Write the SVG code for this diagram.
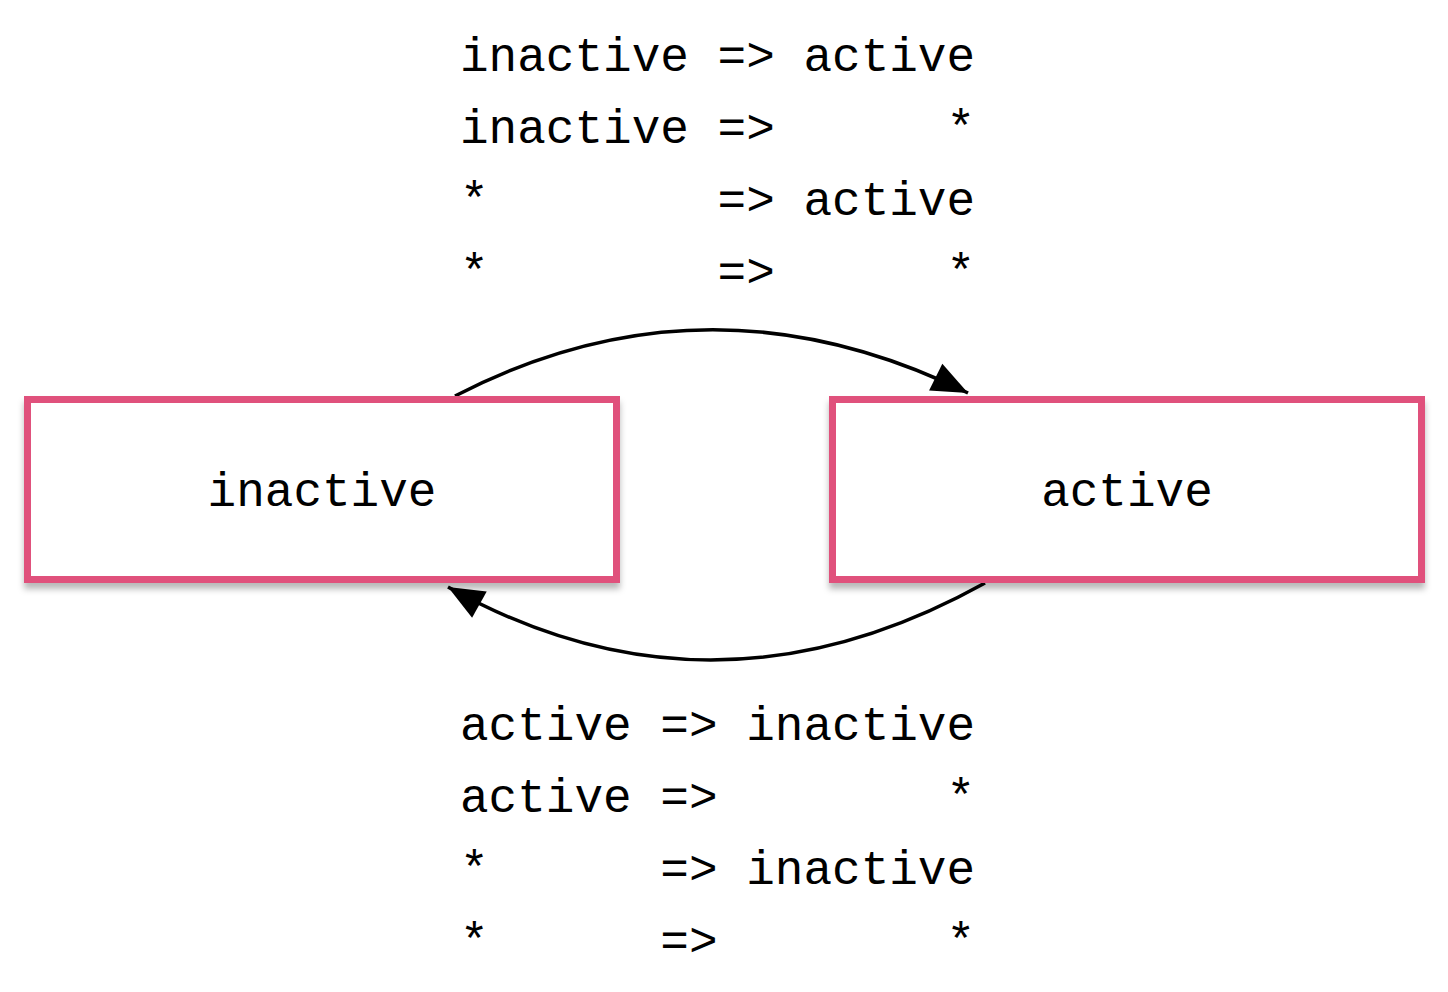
<svg xmlns="http://www.w3.org/2000/svg" width="1448" height="992" viewBox="0 0 1448 992">
<defs>
<style>
.t{font-family:"Liberation Mono","DejaVu Sans Mono",monospace;font-size:47.7px;fill:#000;white-space:pre}
.box{fill:#fff;stroke:#e0517b;stroke-width:7}
.edge{fill:none;stroke:#000;stroke-width:3.5}
</style>
<filter id="sh" x="-5%" y="-10%" width="110%" height="130%">
<feDropShadow dx="0" dy="6" stdDeviation="3" flood-color="#000" flood-opacity="0.28"/>
</filter>
<marker id="ah" markerUnits="userSpaceOnUse" markerWidth="44" markerHeight="44" viewBox="0 0 44 44" refX="38" refY="22" orient="auto">
<path d="M2,7 L38,22 L2,37 Z" fill="#000"/>
</marker>
</defs>
<rect width="1448" height="992" fill="#fff"/>
<g id="label-top">
<text class="t" x="460" y="71" xml:space="preserve">inactive =&gt; active</text>
<text class="t" x="460" y="143" xml:space="preserve">inactive =&gt;      *</text>
<text class="t" x="460" y="215" xml:space="preserve">*        =&gt; active</text>
<text class="t" x="460" y="287" xml:space="preserve">*        =&gt;      *</text>
</g>
<g id="label-bottom">
<text class="t" x="460" y="740" xml:space="preserve">active =&gt; inactive</text>
<text class="t" x="460" y="812" xml:space="preserve">active =&gt;        *</text>
<text class="t" x="460" y="884" xml:space="preserve">*      =&gt; inactive</text>
<text class="t" x="460" y="956" xml:space="preserve">*      =&gt;        *</text>
</g>
<g id="connectors">
<path class="edge" d="M455,396 Q708,265 968,393" marker-end="url(#ah)"/>
<path class="edge" d="M985,583 Q712,735 448,587" marker-end="url(#ah)"/>
</g>
<g id="node-inactive">
<rect class="box" x="27.5" y="399.5" width="589" height="180" filter="url(#sh)"/>
<text class="t" x="322" y="506" text-anchor="middle">inactive</text>
</g>
<g id="node-active">
<rect class="box" x="832.5" y="399.5" width="589" height="180" filter="url(#sh)"/>
<text class="t" x="1127" y="506" text-anchor="middle">active</text>
</g>
</svg>
